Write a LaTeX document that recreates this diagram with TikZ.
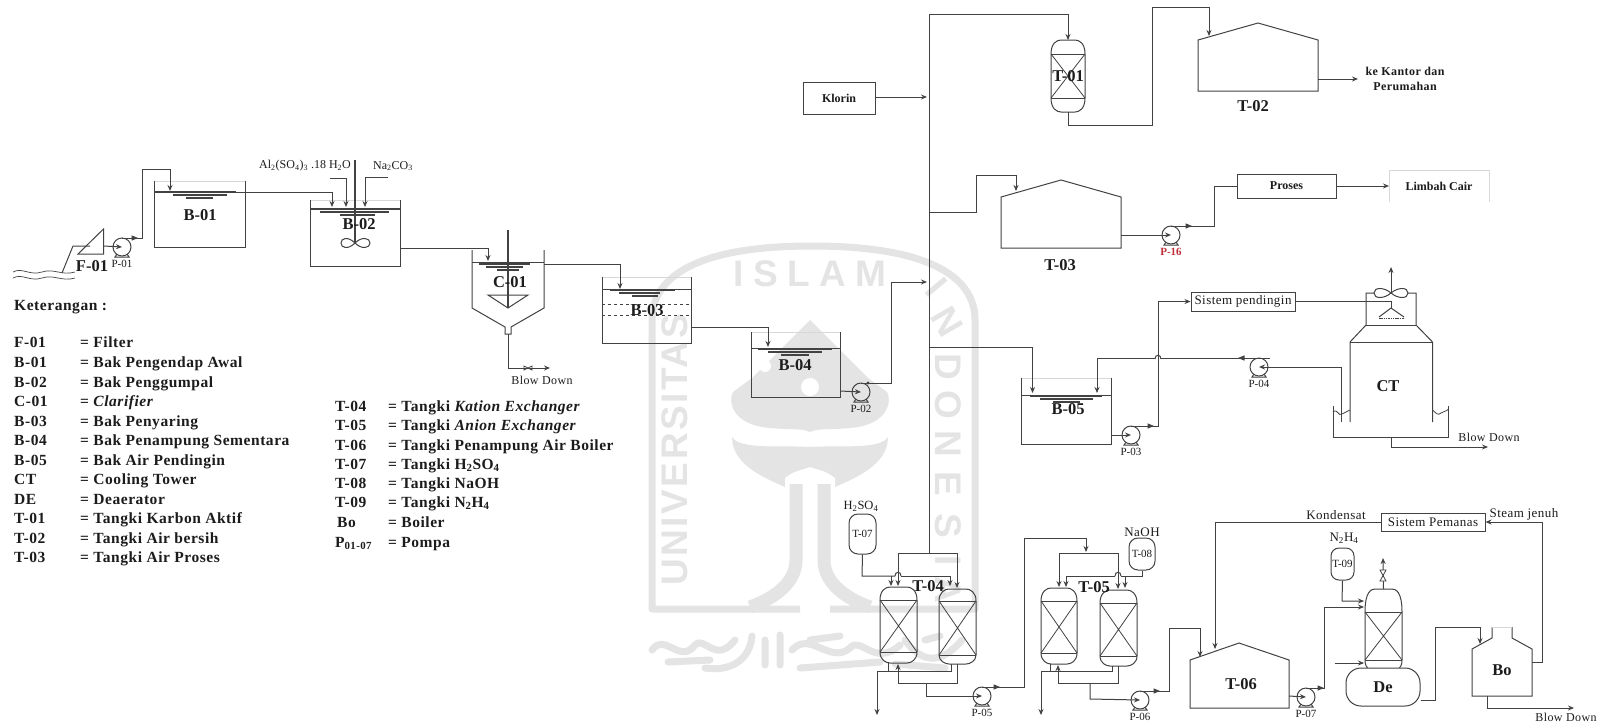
\documentclass[tikz,border=0pt]{standalone}
\usepackage{fontspec}
\usetikzlibrary{arrows.meta}
\setmainfont{Liberation Serif}
\newfontfamily\legfont[LetterSpace=3.5]{Liberation Serif}
\newfontfamily\wmplain{Liberation Sans}
\newfontfamily\wmU[LetterSpace=7]{Liberation Sans}
\newfontfamily\wmI[LetterSpace=26]{Liberation Sans}
\definecolor{pipecol}{HTML}{424242}
\definecolor{wm}{HTML}{E4E4E4}
\definecolor{ttxt}{HTML}{1C1C1C}
\definecolor{faint}{HTML}{D8D8D8}
\definecolor{redlab}{HTML}{C0303A}
\tikzset{
  pipe/.style={draw=pipecol,line width=1pt,line join=miter},
  flow/.style={pipe,-{Stealth[length=6pt,width=5pt]}},
  thin wall/.style={draw=faint,line width=0.7pt},
  pumpc/.style={circle,draw=pipecol,line width=1pt,minimum size=18pt,inner sep=0pt},
  boxn/.style={draw=pipecol,line width=1pt,inner sep=0pt,font=\fontsize{12}{14}\selectfont\bfseries,text=ttxt},
  tagn/.style={inner sep=0pt,font=\fontsize{16.5}{19}\selectfont\bfseries,text=ttxt},
  tagm/.style={inner sep=0pt,font=\fontsize{12}{14}\selectfont\bfseries,text=ttxt},
  tagr/.style={inner sep=0pt,font=\legfont\fontsize{13}{15}\selectfont,text=ttxt},
  tags/.style={inner sep=0pt,font=\fontsize{11}{13}\selectfont,text=ttxt},
  legn/.style={inner sep=0pt,anchor=base west,font=\legfont\fontsize{15.5}{17}\selectfont\bfseries,text=ttxt},
  tankv/.style={draw=pipecol,line width=1pt,inner sep=0pt,rounded corners=9pt,font=\fontsize{11}{13}\selectfont,text=ttxt},
  wmletter/.style={inner sep=0pt,text=wm,font=\wmplain\bfseries\fontsize{37}{37}\selectfont},
}
\newcommand\PumpAt[5][ttxt]{%
  \node[pumpc] (#2) at (#3,#4) {};
  \draw[pipe] (#3,#4-9) -- (#3+11,#4-9);
  \draw[pipe] (#3-5,#4+7) -- (#3-7,#4+10) -- (#3+7,#4+10) -- (#3+5,#4+7);
  \coordinate (#2o) at (#3+11,#4-9);
  \node[tags,text=#1] (#2l) at (#3,#4+17) {#5};
}
\newcommand\OpenTank[7]{% name l r top water bot label-omitted
  \draw[thin wall] (#2,#4) -- (#3,#4);
  \draw[pipe] (#2,#4) -- (#2,#6) -- (#3,#6) -- (#3,#4);
  \draw[pipe] (#2,#5) -- (#3,#5);
  \coordinate (#1) at ({(#2+#3)/2},#5);
  #7
}
\newcommand\Water[7]{% x1 x2 y x3 x4 x5 x6
  \draw[pipe,line width=1.5pt] (#1,#3) -- (#2,#3);
  \draw[pipe,line width=1.5pt] (#4,#3+3) -- (#5,#3+3);
  \draw[pipe,line width=1.5pt] (#6,#3+6) -- (#7,#3+6);
}
\newcommand\Vessel[7]{% name x1 x2 top l1 l2 bot
  \draw[pipe] (#2,#5) .. controls (#2,#4+3) and (#2+6,#4) .. (#2+10,#4) -- (#3-10,#4) .. controls (#3-6,#4) and (#3,#4+3) .. (#3,#5)
     -- (#3,#6) .. controls (#3,#7-3) and (#3-6,#7) .. (#3-10,#7) -- (#2+10,#7) .. controls (#2+6,#7) and (#2,#7-3) .. (#2,#6) -- cycle;
  \draw[pipe] (#2,#5) -- (#3,#5) (#2,#6) -- (#3,#6);
  \draw[pipe,line width=0.8pt] (#2,#5) -- (#3,#6) (#3,#5) -- (#2,#6);
  \coordinate (#1t) at ({(#2+#3)/2},#4);
  \coordinate (#1b) at ({(#2+#3)/2},#7);
}
\newcommand\RTip[2]{\fill[pipecol] (#1-3.5,#2-2.7) -- (#1+3,#2) -- (#1-3.5,#2+2.7) -- cycle;}
\newcommand\LTip[2]{\fill[pipecol] (#1+3.5,#2-2.7) -- (#1-3,#2) -- (#1+3.5,#2+2.7) -- cycle;}
\newcommand\Bump[2]{\draw[pipe] (#1-3,#2) .. controls (#1-3,#2-5) and (#1+3,#2-5) .. (#1+3,#2);}
\newcommand\LegRow[4]{%
  \node[legn] (#1a) at (#2,#4) {#3};
}
\newcommand\LegVal[3]{\node[legn] (#1) at (#2) {#3};}
\newcommand\Sb[1]{\textsubscript{#1}}
\begin{document}
\begin{tikzpicture}[x=1pt,y=-1pt]
\useasboundingbox (0,0) rectangle (1605,724);
\fill[white] (0,0) rectangle (1605,724);

% ---------- watermark ----------
\begin{scope}
\draw[wm,line width=7pt,line join=round] (800,609) -- (652,609) -- (652,320) .. controls (652,275) and (700,246) .. (812,246) .. controls (925,246) and (975,275) .. (975,320) -- (975,609) -- (830,609);
\node[inner sep=0pt,text=wm,font=\wmU\bfseries\fontsize{37}{37}\selectfont,rotate=90] (wmuni) at (675,450) {UNIVERSITAS};
\node[inner sep=0pt,text=wm,font=\wmI\bfseries\fontsize{37}{37}\selectfont] (wmisl) at (810,274) {ISLAM};
\node[wmletter,rotate=-50] (wmd0) at (937,287) {I};
\node[wmletter,rotate=-60] (wmd1) at (947,322) {N};
\node[wmletter,rotate=-90] (wmd2) at (948,367) {D};
\node[wmletter,rotate=-90] (wmd3) at (948,405) {O};
\node[wmletter,rotate=-90] (wmd4) at (948,444) {N};
\node[wmletter,rotate=-90] (wmd5) at (948,484) {E};
\node[wmletter,rotate=-90] (wmd6) at (948,526) {S};
\node[wmletter,rotate=-90] (wmd7) at (948,561) {I};
\node[wmletter,rotate=-90] (wmd8) at (948,590) {A};
\fill[wm] (810,320) -- (752,378) -- (733,392) .. controls (728,400) and (731,425) .. (770,428) .. controls (790,430) and (802,428) .. (810,432) .. controls (818,428) and (830,430) .. (850,428) .. controls (889,425) and (892,400) .. (887,392) -- (868,378) -- cycle;
\fill[white] (810,387) circle (9pt);
\fill[white] (765,366) circle (6pt);
\fill[wm] (732,437) .. controls (740,450) and (780,445) .. (810,447) .. controls (840,445) and (880,450) .. (888,437) .. controls (888,465) and (855,478) .. (835,487) -- (785,487) .. controls (765,478) and (732,465) .. (732,437) -- cycle;
\fill[white] (785,478) .. controls (795,470) and (803,470) .. (810,467) .. controls (817,470) and (825,470) .. (835,478) -- (835,492) -- (785,492) -- cycle;
\draw[wm,line width=13pt] (796,484) -- (796,560) .. controls (796,585) and (770,600) .. (750,607);
\draw[wm,line width=13pt] (824,484) -- (824,560) .. controls (824,585) and (850,600) .. (870,607);
\draw[wm,line width=7pt,line cap=round] (652,650) .. controls (665,632) and (680,665) .. (695,645) .. controls (705,635) and (715,665) .. (735,640) (668,662) -- (710,660) (705,668) .. controls (730,672) and (750,660) .. (752,636) (765,640) -- (765,665) (780,635) -- (780,665) (792,650) .. controls (810,630) and (830,665) .. (850,648) .. controls (860,635) and (875,668) .. (900,645) (800,668) -- (880,662) (810,640) -- (840,636) (905,640) .. controls (925,668) and (945,660) .. (962,640) (895,664) -- (945,668) (925,640) -- (940,636);
\end{scope}

% ---------- intake and B-01 ----------
\draw[pipe,line width=0.7pt] (13,272) .. controls (22,267) and (30,276) .. (42,272) .. controls (54,268) and (62,276) .. (75,272);
\draw[pipe,line width=0.7pt] (13,278) .. controls (22,273) and (30,282) .. (42,278) .. controls (54,274) and (62,282) .. (75,278);
\draw[pipe] (78,254) -- (103.5,229) -- (103.5,254) -- cycle;
\coordinate (intake) at (62,273);
\coordinate (filterin) at (90,246);
\coordinate (filterout) at (103.5,246);
\draw[pipe] (intake) -- (73,246) -- (filterin);
\PumpAt{p01}{122}{247}{P-01}
\draw[flow] (filterout) -- (p01.center);
\node[tagn] (f01) at (92,266) {F-01};
\OpenTank{b01}{154.6}{245}{181}{192}{247}{}
\Water{154.6}{236}{192}{173}{227}{186}{213}
\node[tagn] (b01l) at (200,215) {B-01};
\coordinate (b01i) at (170,191);
\draw[flow] (p01o) -- (142,238) -- (142,169) -- (170,169) -- (b01i);
\RTip{135}{238}

% ---------- B-02 ----------
\OpenTank{b02}{310}{400}{200}{209}{266}{}
\Water{310}{400}{209}{320}{389}{340}{375}
\coordinate (b02i1) at (332,207);
\coordinate (b02i2) at (346,207);
\coordinate (b02i3) at (365,207);
\coordinate (b01o) at (245,192);
\draw[flow] (b01o) -- (332,192) -- (b02i1);
\coordinate (alin) at (330,178);
\coordinate (nain) at (388,177);
\draw[flow] (alin) -- (346,178) -- (b02i2);
\draw[flow] (nain) -- (365,177) -- (b02i3);
\draw[pipe,line width=1.5pt] (355,160) -- (355,244);
\draw[pipe] (355,243) .. controls (348,236) and (341,238) .. (341,243) .. controls (341,248) and (348,250) .. (355,243) .. controls (362,236) and (370,238) .. (370,243) .. controls (370,248) and (362,250) .. (355,243);
\node[tagn] (b02l) at (359,224) {B-02};
\node[tags,font=\fontsize{12}{14}\selectfont] (allab) at (305,166) {Al\Sb{2}(SO\Sb{4})\Sb{3} .18 H\Sb{2}O};
\node[tags,font=\fontsize{12}{14}\selectfont] (nalab) at (393,166) {Na\Sb{2}CO\Sb{3}};

% ---------- C-01 ----------
\coordinate (c01i) at (488,261);
\coordinate (b02o) at (400,248);
\draw[flow] (b02o) -- (488,248) -- (c01i);
\draw[pipe] (472,250) -- (472,308) -- (505,327) -- (505,334) -- (511,334) -- (511,327) -- (544,308) -- (544,250);
\draw[pipe] (472,262) -- (544,262);
\Water{479}{530}{264}{486}{523}{497}{519}
\draw[pipe,line width=1.4pt] (508,230) -- (508,308);
\draw[pipe] (488,295) -- (528,295) -- (508,308) -- cycle;
\node[tagn] (c01l) at (510,282) {C-01};
\coordinate (bdc) at (550,368);
\draw[flow] (508,334) -- (508,368) -- (bdc);
\draw[pipe,line width=0.8pt] (524,366) -- (532,370) -- (532,366) -- (524,370) -- cycle;
\node[tagr,font=\legfont\fontsize{12}{14}\selectfont] (bdcl) at (542,380) {Blow Down};

% ---------- B-03 ----------
\OpenTank{b03}{602}{691}{277}{289}{343}{}
\Water{610}{675}{290}{619}{660}{632}{658}
\draw[pipe,dashed,line width=0.7pt] (602,304) -- (691,304) (602,315) -- (691,315);
\node[tagn] (b03l) at (647,310) {B-03};
\coordinate (b03i) at (620,289);
\coordinate (c01o) at (544,264);
\draw[flow] (c01o) -- (620,264) -- (b03i);

% ---------- B-04 ----------
\OpenTank{b04}{751}{840}{332}{348}{397}{}
\Water{758}{832}{349}{768}{822}{781}{809}
\node[tagn] (b04l) at (795,365) {B-04};
\coordinate (b04i) at (768,347);
\coordinate (b03o) at (691,327);
\draw[flow] (b03o) -- (768,327) -- (b04i);
\PumpAt{p02}{861}{392}{P-02}
\coordinate (b04o) at (840,391);
\draw[flow] (b04o) -- (p02.center);

% ---------- main header ----------
\node[boxn,minimum width=72pt,minimum height=32pt] (klorin) at (839,98) {Klorin};
\coordinate (mainkl) at (927,97);
\draw[flow] (klorin.east |- mainkl) -- (mainkl);
\coordinate (mainp2) at (927,282);
\draw[flow] (p02o) -- (891,383) -- (891,282) -- (mainp2);
\fill[pipecol] (868,383) circle (1.6pt);
\coordinate (mtop) at (929,14);
\coordinate (mbot) at (929,553);
\draw[pipe] (mbot) -- (mtop);

% ---------- T-01, T-02 ----------
\Vessel{t01}{1051}{1085}{40}{54}{98}{112}
\draw[flow] (mtop) -- (1068,14) -- (t01t);
\node[tagn] (t01l) at (1068,76) {T-01};
\coordinate (t02i) at (1209,36);
\draw[flow] (t01b) -- (1068,125) -- (1152,125) -- (1152,7) -- (1209,7) -- (t02i);
\draw[pipe] (1198,40) -- (1258,23) -- (1318,40) -- (1318,91) -- (1198,91) -- cycle;
\node[tagn] (t02l) at (1253,106) {T-02};
\coordinate (t02o) at (1318,79);
\coordinate (kantor) at (1358,79);
\draw[flow] (t02o) -- (kantor);
\node[tagm,align=center,font=\legfont\fontsize{12}{15}\selectfont\bfseries] (kantorl) at (1405,78.5) {ke Kantor dan\\Perumahan};

% ---------- T-03 ----------
\coordinate (t03i) at (1016,191);
\coordinate (m212) at (929,212);
\draw[pipe] (1001,197) -- (1061,180) -- (1121,197) -- (1121,248) -- (1001,248) -- cycle;
\draw[flow] (m212) -- (976,212) -- (976,175) -- (1016,175) -- (t03i);
\node[tagn] (t03l) at (1060,265) {T-03};
\PumpAt[redlab]{p16}{1171}{235}{\textbf{P-16}}
\coordinate (t03o) at (1121,235);
\draw[flow] (t03o) -- (p16.center);
\node[boxn,minimum width=99pt,minimum height=24pt] (proses) at (1286.5,186) {Proses};
\draw[pipe] (p16o) -- (1214,226) -- (1214,186) -- (proses.west);
\RTip{1189}{226}
\node[inner sep=0pt,font=\fontsize{12}{14}\selectfont\bfseries,text=ttxt] (limbah) at (1439,186) {Limbah Cair};
\draw[thin wall] (1389,202) -- (1389,170) -- (1489,170) -- (1489,202);
\coordinate (limbahw) at (1389,186);
\draw[flow] (proses.east) -- (limbahw);

% ---------- B-05 ----------
\OpenTank{b05}{1021.4}{1111}{378}{395}{444}{}
\Water{1030}{1102}{396}{1040}{1093}{1053}{1080}
\node[tagn] (b05l) at (1068,409) {B-05};
\coordinate (m347) at (929,347);
\coordinate (b05i1) at (1032.5,393);
\coordinate (b05i2) at (1097,393);
\draw[flow] (m347) -- (1032.5,347) -- (b05i1);
\PumpAt{p03}{1131}{435}{P-03}
\coordinate (b05o) at (1111,435);
\draw[flow] (b05o) -- (p03.center);
\node[boxn,minimum width=104pt,minimum height=19pt,font=\legfont\fontsize{13}{15}\selectfont] (sp) at (1243,301.5) {Sistem pendingin};
\draw[flow] (p03o) -- (1158,426) -- (1158,301.5) -- (sp.west);
\RTip{1151}{426}
\Bump{1158}{359}
\PumpAt{p04}{1259}{367}{P-04}
\coordinate (p04o) at (1250,358);
\draw[pipe] (1259,358) -- (1250,358);
\draw[pipe] (1250,358) -- (1161,358);
\draw[flow] (1155,358) -- (1097,358) -- (b05i2);
\LTip{1241}{358}
\coordinate (ctdraw) at (1341,422);
\draw[flow] (ctdraw) -- (1341,367) -- (p04.center);

% ---------- CT ----------
\draw[pipe] (1350,422) -- (1350,342) -- (1366,325) -- (1366,293) -- (1416,293) -- (1416,325) -- (1432.5,342) -- (1432.5,422);
\draw[pipe] (1350,342) -- (1432.5,342) (1366,325) -- (1416,325);
\node[tagn] (ctl) at (1388,386) {CT};
\coordinate (ctfan) at (1391,293);
\coordinate (ctup) at (1391,267);
\draw[flow] (ctfan) -- (ctup);
\draw[pipe,fill=white] (1391,293) .. controls (1384,287) and (1374,287) .. (1374,293) .. controls (1374,299) and (1384,299) .. (1391,293) .. controls (1398,287) and (1408,287) .. (1408,293) .. controls (1408,299) and (1398,299) .. (1391,293);
\draw[pipe] (sp.east) -- (1391,301.5) -- (1391,308);
\draw[pipe] (1391,308) -- (1379,317) (1391,308) -- (1404,317);
\draw[pipe,line width=1.6pt,dash pattern=on 1.5pt off 0.8pt] (1379,318.5) -- (1404,318.5);
\draw[pipe] (1333,406) -- (1333,437) -- (1448.6,437) -- (1448.6,406);
\draw[pipe,line width=0.8pt] (1333,412) .. controls (1338,408) and (1338,417) .. (1342,414) .. controls (1345,412) and (1347,412) .. (1350,410);
\draw[pipe,line width=0.8pt] (1432.5,410) .. controls (1436,413) and (1438,416) .. (1441,413) .. controls (1443,411) and (1446,412) .. (1448.6,409);
\coordinate (bdct) at (1488,447);
\draw[flow] (1391,437) -- (1391,447) -- (bdct);
\node[tagr,font=\legfont\fontsize{12}{14}\selectfont] (bdctl) at (1489,437) {Blow Down};

% ---------- T-04 ----------
\node[tagm,font=\fontsize{12.5}{14}\selectfont] (h2so4) at (861,506) {H\Sb{2}SO\Sb{4}};
\node[tankv,minimum width=27pt,minimum height=40pt] (t07) at (862.5,534) {T-07};
\Vessel{t04a}{880}{917}{587}{600}{652}{663}
\Vessel{t04b}{939}{976}{589}{601}{655}{664}
\node[tagn] (t04l) at (928,586) {T-04};
\draw[pipe] (mbot) -- (898,553);
\draw[pipe] (mbot) -- (957,553);
\coordinate (t04ai) at (898,586);
\coordinate (t04bi) at (957,588);
\draw[flow] (898,553) -- (t04ai);
\draw[flow] (957,553) -- (t04bi);
\coordinate (t04ac) at (891,586);
\coordinate (t04bc) at (950,586);
\draw[pipe] (t07.south) -- (862,576) -- (895,576);
\Bump{898}{576}
\draw[pipe] (901,576) -- (950,576);
\draw[flow] (950,576) -- (t04bc);
\draw[flow] (891,576) -- (t04ac);
\coordinate (drain1) at (877,715);
\draw[flow] (951,664) -- (951,671) -- (877,671) -- (drain1);
\draw[pipe] (888,662) -- (888,671);
\coordinate (t04aup) at (898,664);
\draw[flow] (898,683) -- (t04aup);
\draw[pipe] (898,683) -- (957,683) -- (957,664);
\PumpAt{p05}{982}{696}{P-05}
\draw[flow] (926,683) -- (926,696) -- (p05.center);

% ---------- T-05 ----------
\node[tagr] (naoh) at (1142,532) {NaOH};
\node[tankv,minimum width=26pt,minimum height=32pt] (t08) at (1142,554) {T-08};
\Vessel{t05a}{1041}{1077}{588}{601}{653}{664}
\Vessel{t05b}{1100}{1137}{590}{603}{656}{666}
\node[tagn] (t05l) at (1094,587) {T-05};
\coordinate (t05hdr) at (1086,552);
\draw[flow] (p05o) -- (1024,687) -- (1024,538) -- (1086,538) -- (t05hdr);
\RTip{997}{687}
\coordinate (t05ai) at (1059,587);
\coordinate (t05bi) at (1118,589);
\draw[flow] (1118,553) -- (1059,553) -- (t05ai);
\draw[flow] (1118,553) -- (t05bi);
\coordinate (t05ac) at (1066,587);
\coordinate (t05bc) at (1125,588);
\draw[flow] (t08.south) -- (1142,576) -- (1121,576) -- (1125,576) -- (t05bc);
\draw[pipe] (1115,576) -- (1066,576);
\draw[flow] (1066,576) -- (t05ac);
\draw[pipe] (1125,576) -- (1121,576);
\Bump{1118}{576}
\coordinate (drain2) at (1041,715);
\draw[flow] (1112,666) -- (1112,671) -- (1041,671) -- (drain2);
\draw[pipe] (1050,664) -- (1050,671);
\coordinate (t05aup) at (1058,665);
\draw[flow] (1058,683) -- (t05aup);
\draw[pipe] (1058,683) -- (1118,683) -- (1118,666);
\PumpAt{p06}{1140}{700}{P-06}
\draw[flow] (1090,683) -- (1090,699) -- (p06.center);

% ---------- T-06, De, Bo ----------
\draw[pipe] (1190,660) -- (1239,643) -- (1289,660) -- (1289,708) -- (1190,708) -- cycle;
\node[tagn] (t06l) at (1241,684) {T-06};
\coordinate (t06i) at (1200,657);
\draw[flow] (p06o) -- (1169,691) -- (1169,628) -- (1200,628) -- (t06i);
\RTip{1157}{691}
\node[boxn,minimum width=104pt,minimum height=18pt,font=\legfont\fontsize{13}{15}\selectfont] (pemanas) at (1433,522) {Sistem Pemanas};
\coordinate (t06k) at (1215,649);
\draw[flow] (pemanas.west) -- (1215,522) -- (t06k);
\node[tagr] (kond) at (1336,515) {Kondensat};
\node[tagr] (steam) at (1524,514) {Steam jenuh};
\node[tagr] (n2h4) at (1344,538) {N\Sb{2}H\Sb{4}};
\node[tankv,minimum width=23pt,minimum height=32pt,rounded corners=8pt] (t09) at (1342.5,564) {T-09};
\Vessel{de}{1365}{1402}{589}{612}{660}{672}
\node[draw=pipecol,line width=1pt,fill=white,inner sep=0pt,rounded corners=15pt,minimum width=74pt,minimum height=38pt,font=\fontsize{16.5}{19}\selectfont\bfseries,text=ttxt] (drum) at (1383,687) {De};
\coordinate (dei1) at (1364,601);
\coordinate (dei2) at (1364,607);
\coordinate (dei3) at (1364,663);
\coordinate (desteam) at (1335,663);
\draw[flow] (t09.south) -- (1342,601) -- (dei1);
\PumpAt{p07}{1306}{697}{P-07}
\coordinate (t06o) at (1289,696);
\draw[flow] (t06o) -- (p07.center);
\draw[flow] (p07o) -- (1324,688) -- (1324,607) -- (dei2);
\RTip{1321}{688}
\draw[flow] (desteam) -- (dei3);
\coordinate (devent) at (1383,558);
\draw[flow] (det) -- (devent);
\draw[pipe,fill=white,line width=0.8pt] (1380,570) -- (1386,570) -- (1380,581) -- (1386,581) -- cycle;
\draw[pipe] (1492,627) -- (1492,638) -- (1472,649) -- (1472,696) -- (1532,696) -- (1532,649) -- (1512,638) -- (1512,627);
\draw[thin wall] (1492,627) -- (1512,627);
\node[tagn] (bol) at (1502,670) {Bo};
\coordinate (boi) at (1480,644);
\draw[flow] (drum.east |- 0,700) -- (1435,700) -- (1435,627) -- (1480,627) -- (boi);
\draw[flow] (1532,662) -- (1542,662) -- (1542,522) -- (pemanas.east);
\coordinate (bdbo) at (1574,708);
\draw[flow] (1487,696) -- (1487,708) -- (bdbo);
\node[tagr,font=\legfont\fontsize{12}{14}\selectfont] (bdbol) at (1566,717) {Blow Down};

% ---------- legends ----------
\node[legn] (ket) at (14,310) {Keterangan :};
\LegRow{l1}{14}{F-01}{347}   \LegVal{v1}{80,347}{= Filter}
\LegRow{l2}{14}{B-01}{367}   \LegVal{v2}{80,367}{= Bak Pengendap Awal}
\LegRow{l3}{14}{B-02}{387}   \LegVal{v3}{80,387}{= Bak Penggumpal}
\LegRow{l4}{14}{C-01}{406}   \LegVal{v4}{80,406}{= \textit{Clarifier}}
\LegRow{l5}{14}{B-03}{426}   \LegVal{v5}{80,426}{= Bak Penyaring}
\LegRow{l6}{14}{B-04}{445}   \LegVal{v6}{80,445}{= Bak Penampung Sementara}
\LegRow{l7}{14}{B-05}{465}   \LegVal{v7}{80,465}{= Bak Air Pendingin}
\LegRow{l8}{14}{CT}{484}     \LegVal{v8}{80,484}{= Cooling Tower}
\LegRow{l9}{14}{DE}{504}     \LegVal{v9}{80,504}{= Deaerator}
\LegRow{l10}{14}{T-01}{523}  \LegVal{v10}{80,523}{= Tangki Karbon Aktif}
\LegRow{l11}{14}{T-02}{543}  \LegVal{v11}{80,543}{= Tangki Air bersih}
\LegRow{l12}{14}{T-03}{562}  \LegVal{v12}{80,562}{= Tangki Air Proses}

\LegRow{r1}{335}{T-04}{411}  \LegVal{w1}{388,411}{= Tangki \textit{Kation Exchanger}}
\LegRow{r2}{335}{T-05}{430}  \LegVal{w2}{388,430}{= Tangki \textit{Anion Exchanger}}
\LegRow{r3}{335}{T-06}{450}  \LegVal{w3}{388,450}{= Tangki Penampung Air Boiler}
\LegRow{r4}{335}{T-07}{469}  \LegVal{w4}{388,469}{= Tangki H\Sb{2}SO\Sb{4}}
\LegRow{r5}{335}{T-08}{488}  \LegVal{w5}{388,488}{= Tangki NaOH}
\LegRow{r6}{335}{T-09}{507}  \LegVal{w6}{388,507}{= Tangki N\Sb{2}H\Sb{4}}
\LegRow{r7}{337}{Bo}{527}    \LegVal{w7}{388,527}{= Boiler}
\LegRow{r8}{335}{P\Sb{01-07}}{547} \LegVal{w8}{388,547}{= Pompa}
\end{tikzpicture}
\end{document}
